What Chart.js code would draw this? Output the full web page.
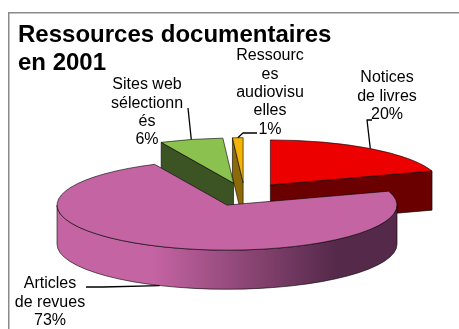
<!DOCTYPE html>
<html>
<head>
<meta charset="utf-8">
<script src="https://cdn.jsdelivr.net/npm/chart.js@4.4.1/dist/chart.umd.min.js"></script>
<style>
  html, body { margin: 0; padding: 0; background: #fff; }
</style>
</head>
<body>
<canvas id="myChart" width="459" height="329"></canvas>
<script>
var categories = ['Notices de livres', 'Articles de revues', 'Sites web sélectionnés', 'Ressources audiovisuelles'];
var values = [20, 73, 6, 1];
var topColors = ['#ec0000', '#c564a3', '#8bc14f', '#f3b40a'];
var sideColors = ['#6b0000', '#55294a', '#3c5323', '#8c6a08'];

// where each label sits (centre of first line) and where its leader line starts
var labelPos = [
    {x: 387, y: 78, lead: [[372, 120], [367, 120]]},
    {x: 50, y: 284, lead: [[86, 287], [103, 287]]},
    {x: 147, y: 85, lead: [[188, 108]]},
    {x: 270, y: 56, lead: [[257, 133], [243, 133]]}
];

var FONT = '"Liberation Sans", Arial, sans-serif';
var TILT = 0.265;   // vertical squash of the pie
var DEPTH = 0.23;   // thickness, as a share of the radius
var SHIFT_X = 6;    // pie sits a little right of the plot centre

function centre(a) {
    var mid = (a.startAngle + a.endAngle) / 2;
    var off = a.options.offset || 0;
    return [a.x + SHIFT_X + Math.cos(mid) * off, a.y + Math.sin(mid) * off * TILT];
}

function pt(a, ang, r, z) {
    var c = centre(a);
    return [c[0] + Math.cos(ang) * r, c[1] + Math.sin(ang) * r * TILT + z];
}

function wrap(ctx, text, maxW) {
    var out = [], line = '';
    text.split(' ').forEach(function (word) {
        var test = line ? line + ' ' + word : word;
        if (ctx.measureText(test).width <= maxW) { line = test; return; }
        if (line) { out.push(line); line = ''; }
        while (ctx.measureText(word).width > maxW) {
            var n = word.length;
            while (n > 1 && ctx.measureText(word.slice(0, n)).width > maxW) n--;
            out.push(word.slice(0, n));
            word = word.slice(n);
        }
        line = word;
    });
    if (line) out.push(line);
    return out;
}

var pie3d = {
    id: 'pie3d',
    beforeDraw: function (chart) {
        var ctx = chart.ctx;
        ctx.save();
        ctx.fillStyle = '#fff';
        ctx.fillRect(0, 0, chart.width, chart.height);
        ctx.fillStyle = '#8a8a8a';
        ctx.fillRect(8, 12, chart.width - 8, 1.5);
        ctx.fillRect(8, 12, 1.5, chart.height - 12);
        ctx.restore();
    },
    beforeDatasetsDraw: function (chart) {
        var ctx = chart.ctx;
        var arcs = chart.getDatasetMeta(0).data;
        var order = arcs.map(function (a, i) { return i; });
        order.sort(function (i, j) {
            var a = arcs[i], b = arcs[j];
            return Math.sin((a.startAngle + a.endAngle) / 2) - Math.sin((b.startAngle + b.endAngle) / 2);
        });

        ctx.save();
        ctx.lineWidth = 0.8;
        ctx.strokeStyle = 'rgba(0,0,0,0.75)';
        ctx.lineJoin = 'round';

        order.forEach(function (i) {
            var a = arcs[i];
            var R = a.outerRadius, ry = R * TILT, D = R * DEPTH;
            var c = centre(a);
            var s = a.startAngle, e = a.endAngle;

            // radial cut faces that turn towards the viewer
            [[s, -Math.cos(s) > 1e-6], [e, Math.cos(e) > 1e-6]].forEach(function (f) {
                if (!f[1]) return;
                var p = pt(a, f[0], R, 0), q = pt(a, f[0], R, D);
                ctx.beginPath();
                ctx.moveTo(c[0], c[1]);
                ctx.lineTo(p[0], p[1]);
                ctx.lineTo(q[0], q[1]);
                ctx.lineTo(c[0], c[1] + D);
                ctx.closePath();
                ctx.fillStyle = sideColors[i];
                ctx.fill();
                ctx.stroke();
            });

            // curved outer wall on the front half
            [[0, Math.PI], [2 * Math.PI, 3 * Math.PI], [-2 * Math.PI, -Math.PI]].forEach(function (w) {
                var a0 = Math.max(s, w[0]), a1 = Math.min(e, w[1]);
                if (a1 <= a0) return;
                var g = ctx.createLinearGradient(c[0] - R, 0, c[0] + R, 0);
                g.addColorStop(0, topColors[i]);
                g.addColorStop(0.28, topColors[i]);
                g.addColorStop(0.82, sideColors[i]);
                g.addColorStop(1, sideColors[i]);
                ctx.beginPath();
                ctx.ellipse(c[0], c[1], R, ry, 0, a0, a1);
                ctx.ellipse(c[0], c[1] + D, R, ry, 0, a1, a0, true);
                ctx.closePath();
                ctx.fillStyle = g;
                ctx.fill();
                ctx.stroke();
            });

            // top face
            ctx.beginPath();
            ctx.moveTo(c[0], c[1]);
            ctx.ellipse(c[0], c[1], R, ry, 0, s, e);
            ctx.closePath();
            ctx.fillStyle = topColors[i];
            ctx.fill();
            ctx.stroke();
        });

        // labels with leader lines
        var total = values.reduce(function (t, v) { return t + v; }, 0);
        ctx.font = '16px ' + FONT;
        ctx.fillStyle = '#000';
        ctx.textAlign = 'center';
        ctx.textBaseline = 'middle';
        arcs.forEach(function (a, i) {
            var L = labelPos[i];
            var lines = wrap(ctx, categories[i], 73.5);
            lines.push(Math.round(values[i] / total * 100) + '%');
            lines.forEach(function (t, k) { ctx.fillText(t, L.x, L.y + k * 18.3); });

            var mid = (a.startAngle + a.endAngle) / 2;
            var end = pt(a, mid, a.outerRadius, Math.sin(mid) > 0 ? a.outerRadius * DEPTH : 0);
            ctx.beginPath();
            ctx.moveTo(L.lead[0][0], L.lead[0][1]);
            for (var k = 1; k < L.lead.length; k++) ctx.lineTo(L.lead[k][0], L.lead[k][1]);
            ctx.lineTo(end[0], end[1]);
            ctx.strokeStyle = '#000';
            ctx.lineWidth = 1.3;
            ctx.stroke();
        });
        ctx.restore();
        return false;
    }
};

var ctx = document.getElementById('myChart');
var myChart = new Chart(ctx, {
    type: 'pie',
    data: {
        labels: categories,
        datasets: [{
            data: values,
            backgroundColor: topColors,
            borderWidth: 0,
            offset: 44
        }]
    },
    options: {
        responsive: false,
        animation: false,
        radius: 170,
        layout: { padding: { left: 18, right: 0, top: 0, bottom: 17.7 } },
        plugins: {
            legend: { display: false },
            tooltip: { enabled: false },
            title: {
                display: true,
                text: ['Ressources documentaires', 'en 2001'],
                align: 'start',
                color: '#000',
                font: { family: FONT, size: 24, weight: 'bold', lineHeight: 28 / 24 },
                padding: { top: 21.5, bottom: 0 }
            }
        }
    },
    plugins: [pie3d]
});
</script>
</body>
</html>
